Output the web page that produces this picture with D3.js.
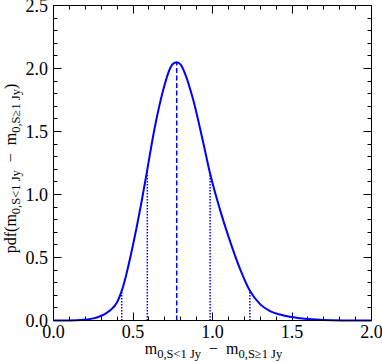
<!DOCTYPE html>
<html>
<head>
<meta charset="utf-8">
<script src="https://cdn.jsdelivr.net/npm/d3@7"></script>
<style>
  html, body { margin: 0; padding: 0; background: #fff; }
  svg text { font-family: "Liberation Serif", "Times New Roman", serif; fill: #000; }
</style>
</head>
<body>
<svg id="chart" width="382" height="362"></svg>
<script>
// curve
const xs  = [0.0, 0.1, 0.19, 0.25, 0.29, 0.355, 0.4, 0.429, 0.455, 0.481, 0.523, 0.555, 0.586, 0.638, 0.69, 0.733, 0.75, 0.775,
             0.8, 0.827, 0.879, 0.942, 0.984, 1.047, 1.11, 1.173, 1.236, 1.299, 1.362, 1.425, 1.487, 1.55, 1.65, 1.75, 1.9, 2.0];
const pdf = [0.0, 0.0, 0.006, 0.017, 0.032, 0.08, 0.145, 0.235, 0.35, 0.49, 0.74, 0.95, 1.17, 1.54, 1.83, 2.0, 2.035, 2.05,
             2.03, 1.96, 1.75, 1.41, 1.17, 0.88, 0.63, 0.41, 0.234, 0.13, 0.075, 0.047, 0.029, 0.018, 0.007, 0.002, 0.0, 0.0];

// peak and percentile markers
const peakX = 0.775, peakY = 2.05;
const quantX = [0.429, 0.59, 0.985, 1.235];
const quantY = [0.235, 1.18, 1.17, 0.235];

const xTicks = [0.0, 0.5, 1.0, 1.5, 2.0];
const yTicks = [0.0, 0.5, 1.0, 1.5, 2.0, 2.5];

const svg = d3.select("#chart");
const pLeft = 53.5, pRight = 371.5, pTop = 5.5, pBottom = 320.5;

const x = d3.scaleLinear().domain([0, 2]).range([pLeft, pRight]);
const y = d3.scaleLinear().domain([0, 2.5]).range([pBottom, pTop]);

const blue = "#0000ff";

// minor + major ticks, inward on all sides
const minorX = d3.range(0, 2.0001, 0.1);
const minorY = d3.range(0, 2.5001, 0.1);
const isMajor = v => Math.abs(v * 2 - Math.round(v * 2)) < 1e-6;

const tg = svg.append("g").attr("stroke", "#000").attr("stroke-width", 1);
minorX.forEach(v => {
  const len = isMajor(v) ? 8 : 4;
  const px = Math.round(x(v) - 0.5) + 0.5;
  tg.append("line").attr("x1", px).attr("x2", px).attr("y1", pBottom).attr("y2", pBottom - len);
  tg.append("line").attr("x1", px).attr("x2", px).attr("y1", pTop).attr("y2", pTop + len);
});
minorY.forEach(v => {
  const len = isMajor(v) ? 8 : 4;
  const py = Math.round(y(v) - 0.5) + 0.5;
  tg.append("line").attr("y1", py).attr("y2", py).attr("x1", pLeft).attr("x2", pLeft + len);
  tg.append("line").attr("y1", py).attr("y2", py).attr("x1", pRight).attr("x2", pRight - len);
});

// tick labels
svg.append("g").selectAll("text").data(xTicks).join("text")
  .attr("x", d => x(d)).attr("y", 338)
  .attr("text-anchor", "middle").attr("font-size", 18)
  .text(d => d.toFixed(1));
svg.append("g").selectAll("text").data(yTicks).join("text")
  .attr("x", 48).attr("y", d => y(d) + 6)
  .attr("text-anchor", "end").attr("font-size", 18)
  .text(d => d.toFixed(1));

// marker lines
svg.append("line")
  .attr("x1", x(peakX)).attr("x2", x(peakX))
  .attr("y1", y(0)).attr("y2", y(peakY))
  .attr("stroke", blue).attr("stroke-width", 1.5).attr("stroke-dasharray", "5,2.5");
svg.append("g").selectAll("line").data(quantX).join("line")
  .attr("x1", d => x(d)).attr("x2", d => x(d))
  .attr("y1", y(0)).attr("y2", (d, i) => y(quantY[i]))
  .attr("stroke", blue).attr("stroke-width", 1.5).attr("stroke-dasharray", "1.5,1.5");

// pdf curve
const line = d3.line().x(d => x(d[0])).y(d => y(d[1])).curve(d3.curveMonotoneX);
svg.append("path")
  .datum(xs.map((v, i) => [v, pdf[i]]))
  .attr("d", line)
  .attr("fill", "none").attr("stroke", blue).attr("stroke-width", 2);

// frame
svg.append("rect")
  .attr("x", pLeft).attr("y", pTop)
  .attr("width", pRight - pLeft).attr("height", pBottom - pTop)
  .attr("fill", "none").attr("stroke", "#000").attr("stroke-width", 1);

// axis labels with subscripts
function mathLabel(t, sub1, sub2, pre, post) {
  if (pre) t.append("tspan").text(pre);
  t.append("tspan").text("m");
  t.append("tspan").attr("font-size", 12.5).attr("dy", 4).text(sub1);
  t.append("tspan").attr("dy", -4).text("\u2002\u2212\u2002m");
  t.append("tspan").attr("font-size", 12.5).attr("dy", 4).text(sub2);
  if (post) t.append("tspan").attr("dy", -4).text(post);
}

const xl = svg.append("text")
  .attr("x", (pLeft + pRight) / 2 + 1).attr("y", 354)
  .attr("text-anchor", "middle").attr("font-size", 16);
mathLabel(xl, "0,S<1 Jy", "0,S\u22651 Jy");

const yl = svg.append("text")
  .attr("transform", "translate(16,168.5) rotate(-90)")
  .attr("text-anchor", "middle").attr("font-size", 16);
mathLabel(yl, "0,S<1 Jy", "0,S\u22651 Jy", "pdf(", ")");
</script>
</body>
</html>
